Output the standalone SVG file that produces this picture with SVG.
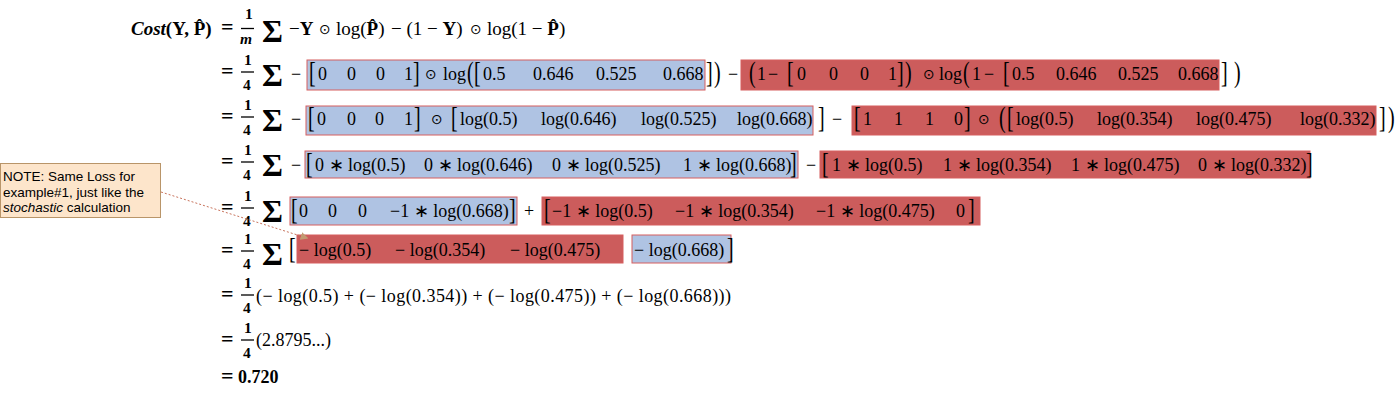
<svg xmlns="http://www.w3.org/2000/svg" width="1400" height="401" viewBox="0 0 1400 401">
<defs>
<style>
text{font-family:"Liberation Serif","Times New Roman",serif;font-size:18px;fill:#000}
.r1{font-size:19px}
.b{font-weight:bold}
.bi{font-weight:bold;font-style:italic}
.eq{font-size:22px;font-weight:bold}
.fr{font-size:15.5px;font-weight:bold}
.sg{font-size:32px;font-weight:bold}
.br{font-size:20px}
.od{font-size:14px;font-family:"DejaVu Sans",sans-serif}
.blue{fill:#afc3e3;stroke:#d65f5f;stroke-width:1}
.red{fill:#cc5c5c;stroke:#d65f5f;stroke-width:1}
.bar{stroke:#000;stroke-width:1.3}
.note{fill:#fde5cb;stroke:#b99569;stroke-width:1}
.nt{font-family:"Liberation Sans",Arial,sans-serif;font-size:13.5px}
.con{fill:none;stroke:#c8735c;stroke-width:1;stroke-dasharray:2 2}
</style>
<marker id="ah" viewBox="0 0 10 10" refX="8" refY="5" markerWidth="8" markerHeight="8" markerUnits="userSpaceOnUse" orient="auto"><path d="M0,0 L10,5 L0,10 z" fill="#c29a72"/></marker>
</defs>

<g id="row1">
<text x="131" y="35" class="b r1"><tspan class="bi">Cost</tspan>(Y, P&#x302;)</text>
<text x="221" y="34" class="eq">=</text>
<text x="245" y="19" class="fr">1</text>
<line x1="241" y1="28.5" x2="254" y2="28.5" class="bar"/>
<text x="240" y="44" class="fr" font-style="italic">m</text>
<text x="262" y="42" class="sg">Σ</text>
<text x="289" y="35" class="r1">−<tspan class="b">Y</tspan></text>
<text x="319" y="34" class="od">⊙</text>
<text x="336" y="35" class="r1">log(<tspan class="b">P&#x302;</tspan>)</text>
<text x="391" y="35" class="r1">− (1 − <tspan class="b">Y</tspan>)</text>
<text x="470" y="34" class="od">⊙</text>
<text x="487" y="35" class="r1">log(1 − <tspan class="b">P&#x302;</tspan>)</text>
</g>

<g id="row2">
<text x="221" y="78" class="eq">=</text>
<text x="244" y="65" class="fr">1</text>
<line x1="241" y1="72" x2="254" y2="72" class="bar"/>
<text x="243" y="90" class="fr">4</text>
<text x="262" y="86" class="sg">Σ</text>
<text x="291" y="80">−</text>
<rect x="307" y="60" width="398" height="30" class="blue"/>
<text transform="translate(309,82) scale(1,1.5)" class="br">[</text>
<text x="318" y="80">0</text><text x="347" y="80">0</text><text x="376" y="80">0</text><text x="404" y="80">1</text>
<text transform="translate(413,82) scale(1,1.5)" class="br">]</text>
<text x="425" y="79" class="od">⊙</text>
<text x="443" y="80">log</text>
<text transform="translate(467,82) scale(1,1.5)" class="br">(</text>
<text transform="translate(474,82) scale(1,1.5)" class="br">[</text>
<text x="483" y="80">0.5</text><text x="533" y="80">0.646</text><text x="596" y="80">0.525</text><text x="663" y="80">0.668</text>
<text transform="translate(706,82) scale(1,1.5)" class="br">]</text>
<text transform="translate(714,82) scale(1,1.5)" class="br">)</text>
<text x="728" y="80">−</text>
<rect x="741" y="60" width="478" height="30" class="red"/>
<text transform="translate(749,82) scale(1,1.5)" class="br">(</text>
<text x="757" y="80">1</text>
<text x="768" y="80">−</text>
<text transform="translate(787,82) scale(1,1.5)" class="br">[</text>
<text x="797" y="80">0</text><text x="829" y="80">0</text><text x="860" y="80">0</text><text x="888" y="80">1</text>
<text transform="translate(897,82) scale(1,1.5)" class="br">]</text>
<text transform="translate(905,82) scale(1,1.5)" class="br">)</text>
<text x="923" y="79" class="od">⊙</text>
<text x="939" y="80">log</text>
<text transform="translate(963,82) scale(1,1.5)" class="br">(</text>
<text x="972" y="80">1</text>
<text x="984" y="80">−</text>
<text transform="translate(1003,82) scale(1,1.5)" class="br">[</text>
<text x="1012" y="80">0.5</text><text x="1056" y="80">0.646</text><text x="1118" y="80">0.525</text><text x="1178" y="80">0.668</text>
<text transform="translate(1221,82) scale(1,1.5)" class="br">]</text>
<text transform="translate(1234,82) scale(1,1.5)" class="br">)</text>
</g>

<g id="row3">
<text x="221" y="123" class="eq">=</text>
<text x="244" y="110" class="fr">1</text>
<line x1="241" y1="117" x2="254" y2="117" class="bar"/>
<text x="243" y="135" class="fr">4</text>
<text x="262" y="131" class="sg">Σ</text>
<text x="291" y="125">−</text>
<rect x="306" y="106" width="507" height="29" class="blue"/>
<text transform="translate(308,127) scale(1,1.5)" class="br">[</text>
<text x="317" y="125">0</text><text x="347" y="125">0</text><text x="375" y="125">0</text><text x="404" y="125">1</text>
<text transform="translate(414,127) scale(1,1.5)" class="br">]</text>
<text x="431" y="124" class="od">⊙</text>
<text transform="translate(451,127) scale(1,1.5)" class="br">[</text>
<text x="460" y="125">log(0.5)</text><text x="541" y="125">log(0.646)</text><text x="641" y="125">log(0.525)</text><text x="737" y="125">log(0.668)</text>
<text transform="translate(818,127) scale(1,1.5)" class="br">]</text>
<text x="832" y="125">−</text>
<rect x="852" y="106" width="524" height="29" class="red"/>
<text transform="translate(854,127) scale(1,1.5)" class="br">[</text>
<text x="863" y="125">1</text><text x="894" y="125">1</text><text x="925" y="125">1</text><text x="954" y="125">0</text>
<text transform="translate(964,127) scale(1,1.5)" class="br">]</text>
<text x="978" y="124" class="od">⊙</text>
<text transform="translate(999,127) scale(1,1.5)" class="br">(</text>
<text transform="translate(1007,127) scale(1,1.5)" class="br">[</text>
<text x="1016" y="125">log(0.5)</text><text x="1097" y="125">log(0.354)</text><text x="1196" y="125">log(0.475)</text><text x="1300" y="125">log(0.332)</text>
<text transform="translate(1379,127) scale(1,1.5)" class="br">]</text>
<text transform="translate(1388,127) scale(1,1.5)" class="br">)</text>
</g>

<g id="row4">
<text x="221" y="168" class="eq">=</text>
<text x="244" y="155" class="fr">1</text>
<line x1="241" y1="162" x2="254" y2="162" class="bar"/>
<text x="243" y="180" class="fr">4</text>
<text x="262" y="176" class="sg">Σ</text>
<text x="291" y="171">−</text>
<rect x="305" y="151" width="493" height="27" class="blue"/>
<text transform="translate(306,173) scale(1,1.45)" class="br">[</text>
<text x="315" y="171">0 ∗ log(0.5)</text><text x="424" y="171">0 ∗ log(0.646)</text><text x="552" y="171">0 ∗ log(0.525)</text><text x="683" y="171">1 ∗ log(0.668)</text>
<text transform="translate(790,173) scale(1,1.45)" class="br">]</text>
<text x="806" y="171">−</text>
<rect x="820" y="151" width="490" height="27" class="red"/>
<text transform="translate(822,173) scale(1,1.45)" class="br">[</text>
<text x="832" y="171">1 ∗ log(0.5)</text><text x="943" y="171">1 ∗ log(0.354)</text><text x="1071" y="171">1 ∗ log(0.475)</text><text x="1198" y="171">0 ∗ log(0.332)</text>
<text transform="translate(1306,173) scale(1,1.45)" class="br">]</text>
</g>

<g id="row5">
<text x="221" y="214" class="eq">=</text>
<text x="244" y="201" class="fr">1</text>
<line x1="241" y1="208" x2="254" y2="208" class="bar"/>
<text x="243" y="226" class="fr">4</text>
<text x="262" y="222" class="sg">Σ</text>
<rect x="290" y="197" width="227" height="28" class="blue"/>
<text transform="translate(291,219) scale(1,1.45)" class="br">[</text>
<text x="299" y="217">0</text><text x="328" y="217">0</text><text x="358" y="217">0</text><text x="390" y="217">−1 ∗ log(0.668)</text>
<text transform="translate(509,219) scale(1,1.45)" class="br">]</text>
<text x="524" y="217">+</text>
<rect x="542" y="197" width="438" height="28" class="red"/>
<text transform="translate(544,219) scale(1,1.45)" class="br">[</text>
<text x="552" y="217">−1 ∗ log(0.5)</text><text x="675" y="217">−1 ∗ log(0.354)</text><text x="816" y="217">−1 ∗ log(0.475)</text><text x="956" y="217">0</text>
<text transform="translate(968,219) scale(1,1.45)" class="br">]</text>
</g>

<g id="row6">
<text x="221" y="257" class="eq">=</text>
<text x="244" y="244" class="fr">1</text>
<line x1="241" y1="251" x2="254" y2="251" class="bar"/>
<text x="243" y="269" class="fr">4</text>
<text x="262" y="265" class="sg">Σ</text>
<text transform="translate(289,258) scale(1,1.5)" class="br">[</text>
<rect x="297" y="235" width="326" height="28" class="red"/>
<text x="299" y="256">− log(0.5)</text><text x="395" y="256">− log(0.354)</text><text x="510" y="256">− log(0.475)</text>
<rect x="632" y="235" width="99" height="28" class="blue"/>
<text x="634" y="256">− log(0.668)</text>
<text transform="translate(727,258) scale(1,1.5)" class="br">]</text>
</g>

<g id="row7">
<text x="221" y="301" class="eq">=</text>
<text x="244" y="288" class="fr">1</text>
<line x1="241" y1="295" x2="254" y2="295" class="bar"/>
<text x="243" y="313" class="fr">4</text>
<text x="256" y="302" textLength="475" lengthAdjust="spacing">(− log(0.5) + (− log(0.354)) + (− log(0.475)) + (− log(0.668)))</text>
</g>

<g id="row8">
<text x="221" y="346" class="eq">=</text>
<text x="244" y="333" class="fr">1</text>
<line x1="241" y1="340" x2="254" y2="340" class="bar"/>
<text x="243" y="358" class="fr">4</text>
<text x="256" y="346">(2.8795...)</text>
</g>

<g id="row9">
<text x="221" y="383" class="eq">=</text>
<text x="238" y="383" class="b">0.720</text>
</g>

<g id="note">
<rect x="0.5" y="163.5" width="160" height="54" class="note"/>
<text x="3" y="181" class="nt">NOTE: Same Loss for</text>
<text x="3" y="196.5" class="nt">example#1, just like the</text>
<text x="3" y="212" class="nt"><tspan font-style="italic">stochastic</tspan> calculation</text>
</g>

<g id="connectors">
<path d="M161,192 L307,238" class="con" marker-end="url(#ah)"/>
</g>
</svg>
